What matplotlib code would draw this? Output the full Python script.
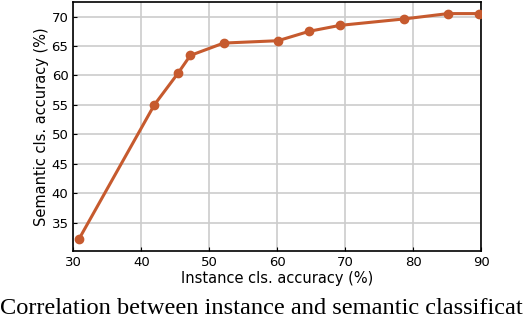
import matplotlib
matplotlib.use('Agg')
import matplotlib.pyplot as plt

instance_acc = [30.8, 41.9, 45.4, 47.2, 52.1, 60.1, 64.7, 69.2, 78.7, 85.1, 89.6]
semantic_acc = [32.2, 55.0, 60.4, 63.4, 65.5, 65.9, 67.5, 68.5, 69.6, 70.5, 70.5]
x_ticks = [30, 40, 50, 60, 70, 80, 90]
y_ticks = [35, 40, 45, 50, 55, 60, 65, 70]
# the caption is cut at the right edge in the reference crop
caption = "Correlation between instance and semantic classificat"

color = '#C65A2E'

fig = plt.figure(figsize=(5.24, 3.2), dpi=100)
ax = fig.add_axes([0.14, 0.2166, 0.7785, 0.7762])

ax.plot(instance_acc, semantic_acc, '-o', color=color, lw=2.2, ms=6, zorder=3)

ax.set_xlim(30, 90)
ax.set_xticks(x_ticks)
ax.set_yticks(y_ticks)
ax.margins(y=0.05)
ax.grid(True, color='#cccccc', lw=1.2)
ax.set_axisbelow(True)
ax.tick_params(direction='in', labelsize=9.5, length=3)
for s in ax.spines.values():
    s.set_linewidth(1.2)

ax.set_xlabel('Instance cls. accuracy (%)', fontsize=10.5, labelpad=2)
ax.set_ylabel('Semantic cls. accuracy (%)', fontsize=10.5, labelpad=2)

fig.text(0.0, 0.018, caption, family='Liberation Serif', fontsize=17.6,
         ha='left', va='baseline')

fig.savefig('out.png', dpi=100)
